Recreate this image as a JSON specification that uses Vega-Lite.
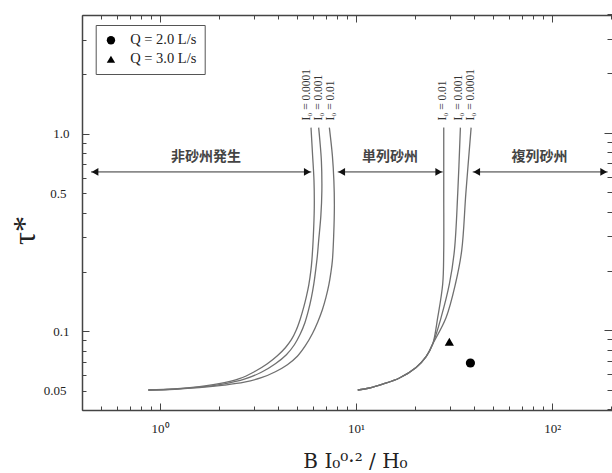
{
  "$schema": "https://vega.github.io/schema/vega-lite/v6.json",
  "autosize": "none",
  "padding": {"left": 82, "top": 15, "right": 0, "bottom": 63},
  "width": 530,
  "height": 395,
  "background": "white",
  "config": {
    "view": {"stroke": null},
    "font": "Liberation Serif"
  },
  "datasets": {
    "curves": [
      {"curve": "L1", "i": 0, "x": 0.872, "y": 0.0505},
      {"curve": "L1", "i": 1, "x": 1.183, "y": 0.0511},
      {"curve": "L1", "i": 2, "x": 1.587, "y": 0.0525},
      {"curve": "L1", "i": 3, "x": 2.129, "y": 0.055},
      {"curve": "L1", "i": 4, "x": 2.539, "y": 0.0576},
      {"curve": "L1", "i": 5, "x": 3.028, "y": 0.0625},
      {"curve": "L1", "i": 6, "x": 3.527, "y": 0.0686},
      {"curve": "L1", "i": 7, "x": 3.967, "y": 0.0753},
      {"curve": "L1", "i": 8, "x": 4.358, "y": 0.0827},
      {"curve": "L1", "i": 9, "x": 4.677, "y": 0.0908},
      {"curve": "L1", "i": 10, "x": 4.96, "y": 0.102},
      {"curve": "L1", "i": 11, "x": 5.198, "y": 0.116},
      {"curve": "L1", "i": 12, "x": 5.416, "y": 0.1334},
      {"curve": "L1", "i": 13, "x": 5.577, "y": 0.1499},
      {"curve": "L1", "i": 14, "x": 5.743, "y": 0.1724},
      {"curve": "L1", "i": 15, "x": 5.88, "y": 0.203},
      {"curve": "L1", "i": 16, "x": 5.949, "y": 0.2282},
      {"curve": "L1", "i": 17, "x": 6.05, "y": 0.3},
      {"curve": "L1", "i": 18, "x": 6.12, "y": 0.42},
      {"curve": "L1", "i": 19, "x": 6.1, "y": 0.58},
      {"curve": "L1", "i": 20, "x": 6.0, "y": 0.78},
      {"curve": "L1", "i": 21, "x": 5.89, "y": 1.076},
      {"curve": "L2", "i": 0, "x": 0.872, "y": 0.0505},
      {"curve": "L2", "i": 1, "x": 1.183, "y": 0.051},
      {"curve": "L2", "i": 2, "x": 1.587, "y": 0.0522},
      {"curve": "L2", "i": 3, "x": 2.129, "y": 0.0543},
      {"curve": "L2", "i": 4, "x": 2.692, "y": 0.0573},
      {"curve": "L2", "i": 5, "x": 3.287, "y": 0.0621},
      {"curve": "L2", "i": 6, "x": 3.876, "y": 0.0686},
      {"curve": "L2", "i": 7, "x": 4.411, "y": 0.0762},
      {"curve": "L2", "i": 8, "x": 4.845, "y": 0.0856},
      {"curve": "L2", "i": 9, "x": 5.198, "y": 0.0973},
      {"curve": "L2", "i": 10, "x": 5.482, "y": 0.1107},
      {"curve": "L2", "i": 11, "x": 5.711, "y": 0.1273},
      {"curve": "L2", "i": 12, "x": 5.916, "y": 0.1482},
      {"curve": "L2", "i": 13, "x": 6.091, "y": 0.1744},
      {"curve": "L2", "i": 14, "x": 6.236, "y": 0.2078},
      {"curve": "L2", "i": 15, "x": 6.347, "y": 0.2417},
      {"curve": "L2", "i": 16, "x": 6.444, "y": 0.288},
      {"curve": "L2", "i": 17, "x": 6.613, "y": 0.3856},
      {"curve": "L2", "i": 18, "x": 6.691, "y": 0.5161},
      {"curve": "L2", "i": 19, "x": 6.653, "y": 0.7325},
      {"curve": "L2", "i": 20, "x": 6.536, "y": 0.9249},
      {"curve": "L2", "i": 21, "x": 6.444, "y": 1.076},
      {"curve": "L3", "i": 0, "x": 0.872, "y": 0.0505},
      {"curve": "L3", "i": 1, "x": 1.183, "y": 0.05095},
      {"curve": "L3", "i": 2, "x": 1.587, "y": 0.05186},
      {"curve": "L3", "i": 3, "x": 2.129, "y": 0.0534},
      {"curve": "L3", "i": 4, "x": 2.692, "y": 0.0553},
      {"curve": "L3", "i": 5, "x": 3.287, "y": 0.05827},
      {"curve": "L3", "i": 6, "x": 3.876, "y": 0.06249},
      {"curve": "L3", "i": 7, "x": 4.463, "y": 0.06782},
      {"curve": "L3", "i": 8, "x": 5.018, "y": 0.07486},
      {"curve": "L3", "i": 9, "x": 5.513, "y": 0.08465},
      {"curve": "L3", "i": 10, "x": 5.984, "y": 0.09734},
      {"curve": "L3", "i": 11, "x": 6.384, "y": 0.112},
      {"curve": "L3", "i": 12, "x": 6.731, "y": 0.1288},
      {"curve": "L3", "i": 13, "x": 7.015, "y": 0.1482},
      {"curve": "L3", "i": 14, "x": 7.266, "y": 0.1724},
      {"curve": "L3", "i": 15, "x": 7.438, "y": 0.1984},
      {"curve": "L3", "i": 16, "x": 7.571, "y": 0.2282},
      {"curve": "L3", "i": 17, "x": 7.687, "y": 0.3053},
      {"curve": "L3", "i": 18, "x": 7.75, "y": 0.4333},
      {"curve": "L3", "i": 19, "x": 7.705, "y": 0.58},
      {"curve": "L3", "i": 20, "x": 7.571, "y": 0.7763},
      {"curve": "L3", "i": 21, "x": 7.307, "y": 1.076},
      {"curve": "R1", "i": 0, "x": 10.2, "y": 0.0505},
      {"curve": "R1", "i": 1, "x": 11.69, "y": 0.0517},
      {"curve": "R1", "i": 2, "x": 13.67, "y": 0.0541},
      {"curve": "R1", "i": 3, "x": 16.64, "y": 0.0581},
      {"curve": "R1", "i": 4, "x": 20.24, "y": 0.0657},
      {"curve": "R1", "i": 5, "x": 22.76, "y": 0.0745},
      {"curve": "R1", "i": 6, "x": 24.59, "y": 0.0863},
      {"curve": "R1", "i": 7, "x": 26.09, "y": 0.1177},
      {"curve": "R1", "i": 8, "x": 27.66, "y": 0.1738},
      {"curve": "R1", "i": 9, "x": 27.99, "y": 0.2563},
      {"curve": "R1", "i": 10, "x": 28.0, "y": 0.5},
      {"curve": "R1", "i": 11, "x": 28.0, "y": 1.076},
      {"curve": "R2", "i": 0, "x": 10.2, "y": 0.0505},
      {"curve": "R2", "i": 1, "x": 11.69, "y": 0.0517},
      {"curve": "R2", "i": 2, "x": 13.67, "y": 0.0541},
      {"curve": "R2", "i": 3, "x": 16.64, "y": 0.0581},
      {"curve": "R2", "i": 4, "x": 20.24, "y": 0.0657},
      {"curve": "R2", "i": 5, "x": 22.76, "y": 0.0745},
      {"curve": "R2", "i": 6, "x": 24.59, "y": 0.0863},
      {"curve": "R2", "i": 7, "x": 27.15, "y": 0.1177},
      {"curve": "R2", "i": 8, "x": 29.92, "y": 0.1738},
      {"curve": "R2", "i": 9, "x": 31.73, "y": 0.2563},
      {"curve": "R2", "i": 10, "x": 33.0, "y": 0.5},
      {"curve": "R2", "i": 11, "x": 34.05, "y": 1.076},
      {"curve": "R3", "i": 0, "x": 10.2, "y": 0.0505},
      {"curve": "R3", "i": 1, "x": 11.69, "y": 0.0517},
      {"curve": "R3", "i": 2, "x": 13.67, "y": 0.0541},
      {"curve": "R3", "i": 3, "x": 16.64, "y": 0.0581},
      {"curve": "R3", "i": 4, "x": 20.24, "y": 0.0657},
      {"curve": "R3", "i": 5, "x": 22.76, "y": 0.0745},
      {"curve": "R3", "i": 6, "x": 24.59, "y": 0.0863},
      {"curve": "R3", "i": 7, "x": 28.79, "y": 0.1177},
      {"curve": "R3", "i": 8, "x": 32.11, "y": 0.1738},
      {"curve": "R3", "i": 9, "x": 34.57, "y": 0.2563},
      {"curve": "R3", "i": 10, "x": 36.3, "y": 0.5},
      {"curve": "R3", "i": 11, "x": 38.62, "y": 1.076}
    ],
    "points": [
      {"x": 38.3, "y": 0.0692, "Q": "Q = 2.0 L/s"},
      {"x": 29.9, "y": 0.0887, "Q": "Q = 3.0 L/s"}
    ],
    "arrows": [
      {"x1": 0.4446, "x2": 5.91, "y": 0.642},
      {"x1": 8.06, "x2": 27.66, "y": 0.642},
      {"x1": 39.35, "x2": 192, "y": 0.642}
    ],
    "regions": [
      {"x": 1.717, "y": 0.761, "label": "非砂州発生"},
      {"x": 14.91, "y": 0.761, "label": "単列砂州"},
      {"x": 86.1, "y": 0.761, "label": "複列砂州"}
    ],
    "iolabels": [
      {"x": 5.62, "y": 1.168, "label": "I₀ = 0.0001"},
      {"x": 6.5, "y": 1.168, "label": "I₀ = 0.001"},
      {"x": 7.46, "y": 1.168, "label": "I₀ = 0.01"},
      {"x": 27.9, "y": 1.168, "label": "I₀ = 0.01"},
      {"x": 33.4, "y": 1.168, "label": "I₀ = 0.001"},
      {"x": 38.6, "y": 1.168, "label": "I₀ = 0.0001"}
    ]
  },
  "resolve": {"axis": {"x": "independent", "y": "independent"}},
  "layer": [
    {
      "data": {"name": "curves"},
      "mark": {"type": "line", "interpolate": "catmull-rom", "color": "#707070", "strokeWidth": 1.3},
      "encoding": {
        "x": {
          "field": "x", "type": "quantitative",
          "scale": {"type": "log", "domain": [0.4, 202], "nice": false},
          "axis": {
            "orient": "bottom",
            "title": "B I₀⁰·² / H₀",
            "titleFont": "DejaVu Serif", "titleFontSize": 20, "titleFontWeight": "normal", "titleColor": "#222",
            "titleX": 273, "titleY": 57, "titleAlign": "center", "titleBaseline": "alphabetic",
            "values": [0.4,0.5,0.6,0.7,0.8,0.9,1,2,3,4,5,6,7,8,9,10,20,30,40,50,60,70,80,90,100,200],
            "labelExpr": "datum.value == 1 ? '10⁰' : datum.value == 10 ? '10¹' : datum.value == 100 ? '10²' : ''",
            "labelFont": "Liberation Serif", "labelFontSize": 13, "labelColor": "#222", "labelPadding": 19,
            "labelFlush": false, "labelOverlap": false,
            "domain": true, "domainColor": "#444", "domainWidth": 1.5, "grid": false,
            "tickColor": "#444", "tickWidth": 1,
            "tickSize": {"condition": {"test": "datum.value == 1 || datum.value == 10 || datum.value == 100", "value": -7}, "value": -4}
          }
        },
        "y": {
          "field": "y", "type": "quantitative",
          "scale": {"type": "log", "domain": [0.04, 4], "nice": false},
          "axis": {
            "orient": "left",
            "title": "τ*",
            "titleFont": "Liberation Serif", "titleFontSize": 32, "titleFontWeight": "normal", "titleColor": "#222",
            "titleAngle": -90, "titleX": -58, "titleY": 215, "titleAlign": "center", "titleBaseline": "middle",
            "values": [0.04,0.05,0.06,0.07,0.08,0.09,0.1,0.2,0.3,0.4,0.5,0.6,0.7,0.8,0.9,1,2,3,4],
            "labelExpr": "abs(datum.value-1)<1e-9 ? '1.0' : abs(datum.value-0.5)<1e-9 ? '0.5' : abs(datum.value-0.1)<1e-9 ? '0.1' : abs(datum.value-0.05)<1e-9 ? '0.05' : ''",
            "labelFont": "Liberation Serif", "labelFontSize": 13, "labelColor": "#222", "labelPadding": 20,
            "labelFlush": false, "labelOverlap": false,
            "domain": true, "domainColor": "#444", "domainWidth": 1.5, "grid": false,
            "tickColor": "#444", "tickWidth": 1,
            "tickSize": {"condition": {"test": "abs(datum.value-1)<1e-9 || abs(datum.value-0.1)<1e-9", "value": -7}, "value": -4}
          }
        },
        "detail": {"field": "curve"},
        "order": {"field": "i", "type": "quantitative"}
      }
    },
    {
      "data": {"name": "arrows"},
      "mark": {"type": "rule", "color": "#8a8a8a", "strokeWidth": 1.6},
      "encoding": {
        "x": {
          "field": "x1", "type": "quantitative",
          "scale": {"type": "log", "domain": [0.4, 202], "nice": false},
          "axis": {
            "orient": "top", "title": null, "labels": false,
            "domain": true, "domainColor": "#444", "domainWidth": 1.5, "grid": false,
            "values": [0.4,0.5,0.6,0.7,0.8,0.9,1,2,3,4,5,6,7,8,9,10,20,30,40,50,60,70,80,90,100,200],
            "tickColor": "#444", "tickWidth": 1,
            "tickSize": {"condition": {"test": "datum.value == 1 || datum.value == 10 || datum.value == 100", "value": -7}, "value": -4}
          }
        },
        "x2": {"field": "x2"},
        "y": {
          "field": "y", "type": "quantitative",
          "scale": {"type": "log", "domain": [0.04, 4], "nice": false},
          "axis": {
            "orient": "right", "title": null, "labels": false, "domain": false, "domainOpacity": 0, "grid": false,
            "values": [0.04,0.05,0.06,0.07,0.08,0.09,0.1,0.2,0.3,0.4,0.5,0.6,0.7,0.8,0.9,1,2,3,4],
            "tickColor": "#444", "tickWidth": 1, "tickOffset": -1,
            "tickSize": {"condition": {"test": "abs(datum.value-1)<1e-9 || abs(datum.value-0.1)<1e-9", "value": -8}, "value": -5}
          }
        }
      }
    },
    {
      "data": {"name": "arrows"},
      "mark": {"type": "point", "shape": "triangle-left", "filled": true, "color": "#111", "size": 60, "opacity": 1, "xOffset": 4},
      "encoding": {
        "x": {"field": "x1", "type": "quantitative", "scale": {"type": "log", "domain": [0.4, 202], "nice": false}, "axis": null},
        "y": {"field": "y", "type": "quantitative", "scale": {"type": "log", "domain": [0.04, 4], "nice": false}, "axis": null}
      }
    },
    {
      "data": {"name": "arrows"},
      "mark": {"type": "point", "shape": "triangle-right", "filled": true, "color": "#111", "size": 60, "opacity": 1, "xOffset": -4},
      "encoding": {
        "x": {"field": "x2", "type": "quantitative", "scale": {"type": "log", "domain": [0.4, 202], "nice": false}, "axis": null},
        "y": {"field": "y", "type": "quantitative", "scale": {"type": "log", "domain": [0.04, 4], "nice": false}, "axis": null}
      }
    },
    {
      "data": {"name": "regions"},
      "mark": {"type": "text", "font": "Noto Sans CJK JP", "fontSize": 14, "fontWeight": "bold", "color": "#444", "align": "center", "baseline": "middle"},
      "encoding": {
        "x": {"field": "x", "type": "quantitative", "scale": {"type": "log", "domain": [0.4, 202], "nice": false}, "axis": null},
        "y": {"field": "y", "type": "quantitative", "scale": {"type": "log", "domain": [0.04, 4], "nice": false}, "axis": null},
        "text": {"field": "label"}
      }
    },
    {
      "data": {"name": "iolabels"},
      "mark": {"type": "text", "font": "Liberation Serif", "fontSize": 11.5, "color": "#333", "align": "left", "baseline": "middle", "angle": 270},
      "encoding": {
        "x": {"field": "x", "type": "quantitative", "scale": {"type": "log", "domain": [0.4, 202], "nice": false}, "axis": null},
        "y": {"field": "y", "type": "quantitative", "scale": {"type": "log", "domain": [0.04, 4], "nice": false}, "axis": null},
        "text": {"field": "label"}
      }
    },
    {
      "data": {"name": "points"},
      "mark": {"type": "point", "filled": true, "color": "#000", "size": 85, "opacity": 1},
      "encoding": {
        "x": {"field": "x", "type": "quantitative", "scale": {"type": "log", "domain": [0.4, 202], "nice": false}, "axis": null},
        "y": {"field": "y", "type": "quantitative", "scale": {"type": "log", "domain": [0.04, 4], "nice": false}, "axis": null},
        "shape": {
          "field": "Q", "type": "nominal",
          "scale": {"domain": ["Q = 2.0 L/s", "Q = 3.0 L/s"], "range": ["circle", "triangle-up"]},
          "legend": {
            "title": null, "orient": "none", "legendX": 13.7, "legendY": 10,
            "strokeColor": "#555", "fillColor": "white", "padding": 8,
            "labelFont": "Liberation Serif", "labelFontSize": 14.5, "labelColor": "#222",
            "symbolFillColor": "#000", "symbolStrokeColor": "#000", "symbolSize": 70, "symbolStrokeWidth": 0,
            "rowPadding": 4, "labelOffset": 12
          }
        }
      }
    }
  ]
}
